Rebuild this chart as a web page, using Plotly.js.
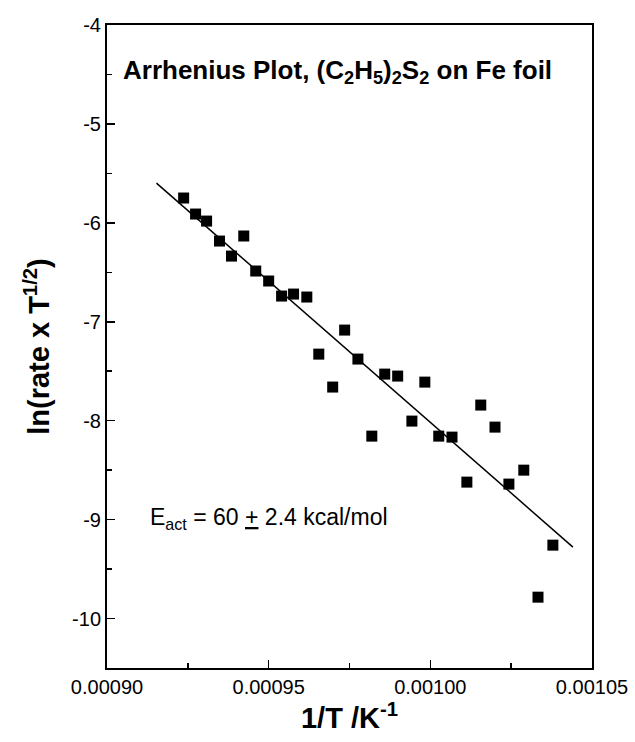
<!DOCTYPE html>
<html>
<head>
<meta charset="utf-8">
<script src="https://cdn.plot.ly/plotly-3.0.1.min.js"></script>
<style>
html,body{margin:0;padding:0;background:#fff;}
#chart{width:635px;height:742px;}
</style>
</head>
<body>
<div id="chart"></div>
<script>
// Data
const invT = [0.0009237, 0.0009274, 0.0009308, 0.0009348, 0.0009385, 0.0009423, 0.0009460, 0.0009500,
  0.0009540, 0.0009577, 0.0009618, 0.0009735, 0.0009655, 0.0009776, 0.0009698, 0.0009859, 0.0009899,
  0.0009983, 0.0009819, 0.0009943, 0.0010026, 0.0010067, 0.0010156, 0.0010200, 0.0010113, 0.0010243,
  0.0010289, 0.0010379, 0.0010333];
const lnRate = [-5.749, -5.911, -5.982, -6.184, -6.336, -6.133, -6.487, -6.588,
  -6.740, -6.720, -6.750, -7.084, -7.327, -7.377, -7.660, -7.529, -7.549,
  -7.610, -8.156, -8.004, -8.156, -8.166, -7.842, -8.065, -8.621, -8.641,
  -8.500, -9.258, -9.784];
const fitX = [0.0009153, 0.0010441];
const fitY = [-5.598, -9.278];

const xTickVals = [0.00090, 0.00095, 0.00100, 0.00105];
const xTickText = ["0.00090", "0.00095", "0.00100", "0.00105"];
const yTickVals = [-10, -9, -8, -7, -6, -5, -4];
const yTickText = ["-10", "-9", "-8", "-7", "-6", "-5", "-4"];

const titleText = "<b>Arrhenius Plot, (C<sub>2</sub>H<sub>5</sub>)<sub>2</sub>S<sub>2</sub> on Fe foil</b>";
const eactText = "E<sub>act</sub> = 60 <u>+</u> 2.4 kcal/mol";
const xTitle = "<b>1/T /K<sup>-1</sup></b>";
const yTitle = "<b>ln(rate x T<sup>1/2</sup>)</b>";

const font = "Arial, 'Liberation Sans', sans-serif";

const traces = [
  {
    x: invT, y: lnRate, type: 'scatter', mode: 'markers',
    marker: {symbol: 'square', size: 11, color: '#000'},
    hoverinfo: 'skip'
  },
  {
    x: fitX, y: fitY, type: 'scatter', mode: 'lines',
    line: {color: '#000', width: 1.5},
    hoverinfo: 'skip'
  }
];

const axisCommon = {
  showgrid: false, zeroline: false,
  showline: true, linecolor: '#000', linewidth: 2, mirror: true,
  ticks: 'inside', ticklen: 8, tickwidth: 1.5, tickcolor: '#000',
  tickfont: {family: font, size: 20, color: '#000'}
};

const layout = {
  width: 635, height: 742,
  margin: {l: 107, r: 43, t: 25, b: 74},
  paper_bgcolor: '#fff', plot_bgcolor: '#fff',
  showlegend: false,
  font: {family: font, color: '#000'},
  xaxis: Object.assign({}, axisCommon, {
    range: [0.0009, 0.00105], tickmode: 'array', tickvals: xTickVals, ticktext: xTickText,
    minor: {dtick: 0.000025, tick0: 0.0009, ticks: 'inside', ticklen: 5, tickwidth: 1.5, tickcolor: '#000'},
    title: {text: xTitle, font: {family: font, size: 29, color: '#000'}, standoff: 10}
  }),
  yaxis: Object.assign({}, axisCommon, {
    range: [-10.5, -4], tickmode: 'array', tickvals: yTickVals, ticktext: yTickText,
    minor: {dtick: 0.5, tick0: -10, ticks: 'inside', ticklen: 5, tickwidth: 1.5, tickcolor: '#000'},
    title: {text: yTitle, font: {family: font, size: 29, color: '#000'}, standoff: 14}
  }),
  annotations: [
    {text: titleText, xref: 'paper', yref: 'paper', x: 0.028, y: 0.927, xanchor: 'left', yanchor: 'middle',
     showarrow: false, font: {family: font, size: 26, color: '#000'}},
    {text: eactText, xref: 'paper', yref: 'paper', x: 0.085, y: 0.232, xanchor: 'left', yanchor: 'middle',
     showarrow: false, font: {family: font, size: 23, color: '#000'}}
  ]
};

Plotly.newPlot('chart', traces, layout, {displayModeBar: false, staticPlot: true});
</script>
</body>
</html>
